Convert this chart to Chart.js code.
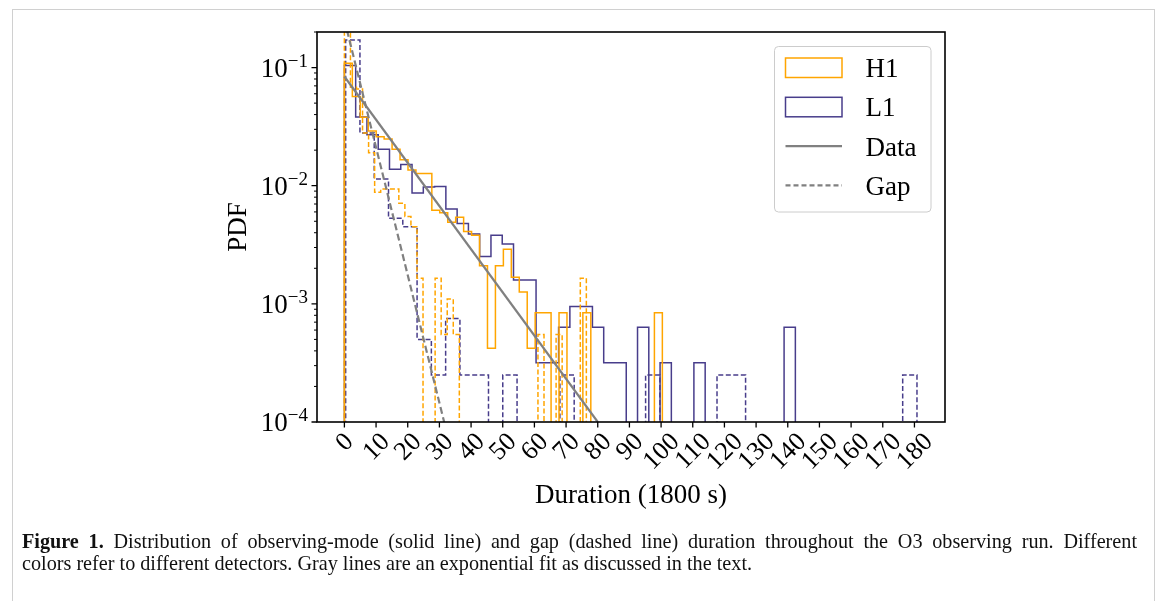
<!DOCTYPE html>
<html>
<head>
<meta charset="utf-8">
<script src="https://cdn.jsdelivr.net/npm/chart.js@4.4.1/dist/chart.umd.min.js"></script>
<style>
  html, body { margin: 0; padding: 0; background: #fff; }
  #wrap { position: relative; width: 1167px; height: 601px; overflow: hidden; }
  #frame { position: absolute; left: 12px; top: 9px; width: 1143px; height: 640px;
           border: 1px solid #d0d0d0; box-sizing: border-box; }
  #chart { position: absolute; left: 0; top: 0; }
  #caption { position: absolute; left: 22px; top: 530px; width: 1115px;
             font-family: "Liberation Serif", serif; font-size: 20.2px; line-height: 22px; color: #111; }
  #caption .first { text-align: justify; text-align-last: justify; white-space: nowrap; }
  #caption .first { white-space: normal; }
</style>
</head>
<body>
<div id="wrap">
  <div id="frame"></div>
  <canvas id="chart" width="1167" height="601"></canvas>
  <div id="caption">
    <div class="first"><b>Figure 1.</b> Distribution of observing-mode (solid line) and gap (dashed line) duration throughout the O3 observing run. Different</div>
    <div>colors refer to different detectors. Gray lines are an exponential fit as discussed in the text.</div>
  </div>
</div>
<script>
// ── Data ─────────────────────────────────────────────────────────────────────
const xTicks      = [0, 10, 20, 30, 40, 50, 60, 70, 80, 90, 100, 110, 120, 130, 140, 150, 160, 170, 180];
const yDecades    = [1e-4, 1e-3, 1e-2, 1e-1];
const yMinorSteps = [2, 3, 4, 5, 6, 7, 8, 9];

// H1 observing-mode histogram (40 bins)
const h1Start = 0, h1Width = 2.51;
const h1Pdf = [0.109, 0.057, 0.038, 0.029, 0.026, 0.0248, 0.0204, 0.0166, 0.0136, 0.0127,
               0.0127, 0.0062, 0.0059, 0.0049, 0.0054, 0.0041, 0.0038, 0.0021, 0.00042, 0.0021,
               0.0029, 0.00168, 0.00126, 0.00042, 0.00084, 0.00084, 0, 0.00084, 0, 0,
               0.00084, 0, 0, 0, 0, 0, 0, 0, 0, 0.00084];

// L1 observing-mode histogram (40 bins)
const l1Start = 0, l1Width = 3.56;
const l1Pdf = [0.104, 0.0381, 0.027, 0.0204, 0.0138, 0.0151, 0.00867, 0.00975, 0.00987, 0.00636,
               0.00478, 0.0039, 0.00252, 0.0038, 0.00321, 0.00159, 0.00159, 0.000317, 0.000317, 0.000634,
               0.00095, 0.00095, 0.000634, 0.000317, 0.000317, 0, 0.000634, 0, 0.000317, 0,
               0, 0.000317, 0, 0, 0, 0, 0, 0, 0, 0.000634];

// H1 gap histogram (40 bins)
const h1GapStart = 0, h1GapWidth = 1.91;
const h1GapPdf = [0.28, 0.068, 0.066, 0.028, 0.019, 0.0088, 0.0094, 0.0094, 0.0094, 0.0071,
                  0.0055, 0.0045, 0.00165, 0, 0, 0.00165, 0.00055, 0.0011, 0.00055, 0,
                  0, 0, 0, 0, 0, 0, 0, 0, 0, 0,
                  0, 0, 0.00055, 0, 0, 0.00055, 0, 0, 0, 0.00165];

// L1 gap histogram (40 bins)
const l1GapStart = 0.4, l1GapWidth = 4.51;
const l1GapPdf = [0.171, 0.028, 0.0114, 0.0053, 0.0045, 0.0005, 0.00025, 0.00075, 0.00025, 0.00025,
                  0, 0.00025, 0, 0, 0, 0.00025, 0, 0, 0, 0,
                  0, 0.00025, 0, 0, 0, 0, 0.00025, 0.00025, 0, 0,
                  0, 0, 0, 0, 0, 0, 0, 0, 0, 0.00025];

// exponential fits (end points of the straight lines on the log axis)
const dataFitX = [0, 80];
const dataFitY = [0.084, 0.0001];
const gapFitX  = [0, 31.5];
const gapFitY  = [0.254, 0.0001];

// ── Styles ───────────────────────────────────────────────────────────────────
const ORANGE = "#ffa500";
const PURPLE = "#483d8b";
const GRAY   = "#808080";
const FONT   = '"Liberation Serif", "DejaVu Serif", serif';
const FLOOR  = 1e-6;   // empty bins drop below the axis

// step outline of a histogram, going down to the floor at both ends
function stepPoints(start, width, pdf) {
  const pts = [{ x: start, y: FLOOR }];
  pdf.forEach((v, i) => {
    const y = v > 0 ? v : FLOOR;
    pts.push({ x: start + i * width, y });
    pts.push({ x: start + (i + 1) * width, y });
  });
  pts.push({ x: start + pdf.length * width, y: FLOOR });
  return pts;
}

function linePoints(xs, ys) {
  return xs.map((x, i) => ({ x, y: ys[i] }));
}

const hist = (label, pts, color, dashed, order) => ({
  label, data: pts, borderColor: color, borderWidth: 1.5,
  borderDash: dashed ? [5, 2.5] : [], fill: false, pointRadius: 0,
  tension: 0, clip: 0, order
});

// ── Axes, ticks, labels and legend drawn matplotlib-style ────────────────────
const axesPlugin = {
  id: "mplAxes",
  afterDraw(chart) {
    const { ctx, chartArea: a, scales: { x, y } } = chart;
    ctx.save();
    ctx.strokeStyle = "#000";
    ctx.fillStyle = "#000";

    // ticks
    ctx.lineWidth = 1.3;
    ctx.beginPath();
    xTicks.forEach(v => {
      const px = x.getPixelForValue(v);
      ctx.moveTo(px, a.bottom); ctx.lineTo(px, a.bottom + 5.5);
    });
    yDecades.forEach(v => {
      const py = y.getPixelForValue(v);
      ctx.moveTo(a.left, py); ctx.lineTo(a.left - 5.5, py);
    });
    ctx.stroke();
    ctx.lineWidth = 1;
    ctx.beginPath();
    yDecades.forEach(d => yMinorSteps.forEach(m => {
      const v = d * m;
      if (v > y.max * 1.0001) return;
      const py = y.getPixelForValue(v);
      ctx.moveTo(a.left, py); ctx.lineTo(a.left - 3, py);
    }));
    ctx.stroke();

    // frame
    ctx.lineWidth = 1.6;
    ctx.strokeRect(a.left, a.top, a.right - a.left, a.bottom - a.top);

    // y tick labels 10^n
    yDecades.forEach(v => {
      const py = y.getPixelForValue(v);
      const sup = "\u2212" + Math.abs(Math.round(Math.log10(v)));
      ctx.font = "27px " + FONT;
      const wb = ctx.measureText("10").width;
      ctx.font = "19px " + FONT;
      const ws = ctx.measureText(sup).width;
      const right = a.left - 9;
      ctx.textAlign = "left"; ctx.textBaseline = "alphabetic";
      ctx.font = "27px " + FONT;
      ctx.fillText("10", right - ws - wb, py + 9);
      ctx.font = "19px " + FONT;
      ctx.fillText(sup, right - ws, py - 1);
    });

    // x tick labels, rotated 45 degrees, centred under the tick
    ctx.font = "26px " + FONT;
    ctx.textAlign = "center"; ctx.textBaseline = "middle";
    xTicks.forEach(v => {
      const label = String(v);
      const w = ctx.measureText(label).width, h = 18;
      const box = (w + h) * Math.SQRT1_2;
      ctx.save();
      ctx.translate(x.getPixelForValue(v), a.bottom + 9 + box / 2);
      ctx.rotate(-Math.PI / 4);
      ctx.fillText(label, 0, 1);
      ctx.restore();
    });

    // axis labels
    ctx.font = "27px " + FONT;
    ctx.textAlign = "center"; ctx.textBaseline = "alphabetic";
    ctx.fillText("Duration (1800 s)", (a.left + a.right) / 2, 503);
    ctx.save();
    ctx.translate(246, (a.top + a.bottom) / 2);
    ctx.rotate(-Math.PI / 2);
    ctx.fillText("PDF", 0, 0);
    ctx.restore();

    // legend
    const lx = 774.5, ly = 46.5, lw = 156.5, lh = 165.5;
    ctx.beginPath();
    ctx.roundRect(lx, ly, lw, lh, 4);
    ctx.fillStyle = "rgba(255,255,255,0.8)";
    ctx.fill();
    ctx.strokeStyle = "#cccccc"; ctx.lineWidth = 1;
    ctx.stroke();
    const items = [
      { label: "H1",   kind: "patch", color: ORANGE },
      { label: "L1",   kind: "patch", color: PURPLE },
      { label: "Data", kind: "line",  color: GRAY, dash: [] },
      { label: "Gap",  kind: "line",  color: GRAY, dash: [5, 3] }
    ];
    items.forEach((it, i) => {
      const cy = 67.5 + i * 39.3;
      if (it.kind === "patch") {
        ctx.strokeStyle = it.color; ctx.lineWidth = 1.5; ctx.setLineDash([]);
        ctx.strokeRect(785.5, cy - 9.5, 56.5, 19.5);
      } else {
        ctx.strokeStyle = it.color; ctx.lineWidth = 2.2; ctx.setLineDash(it.dash);
        ctx.beginPath(); ctx.moveTo(785.5, cy); ctx.lineTo(842, cy); ctx.stroke();
        ctx.setLineDash([]);
      }
      ctx.fillStyle = "#000";
      ctx.font = "27px " + FONT;
      ctx.textAlign = "left"; ctx.textBaseline = "alphabetic";
      ctx.fillText(it.label, 865.5, cy + 9.5);
    });
    ctx.restore();
  }
};

new Chart(document.getElementById("chart").getContext("2d"), {
  type: "line",
  data: {
    datasets: [
      { label: "Data", data: linePoints(dataFitX, dataFitY), borderColor: GRAY, borderWidth: 2.2,
        pointRadius: 0, fill: false, tension: 0, clip: 0, order: 0 },
      { label: "Gap", data: linePoints(gapFitX, gapFitY), borderColor: GRAY, borderWidth: 2.2,
        borderDash: [7, 3.5], pointRadius: 0, fill: false, tension: 0, clip: 0, order: 0 },
      hist("H1",     stepPoints(h1Start, h1Width, h1Pdf),          ORANGE, false, 1),
      hist("H1 gap", stepPoints(h1GapStart, h1GapWidth, h1GapPdf), ORANGE, true,  2),
      hist("L1",     stepPoints(l1Start, l1Width, l1Pdf),          PURPLE, false, 3),
      hist("L1 gap", stepPoints(l1GapStart, l1GapWidth, l1GapPdf), PURPLE, true,  4)
    ]
  },
  options: {
    responsive: false,
    animation: false,
    devicePixelRatio: 1,
    layout: { padding: { left: 317, top: 32, right: 222, bottom: 179 } },
    plugins: { legend: { display: false }, tooltip: { enabled: false } },
    scales: {
      x: { type: "linear", min: -8.65, max: 189.65, display: false },
      y: { type: "logarithmic", min: 1e-4, max: 0.2, display: false }
    }
  },
  plugins: [axesPlugin]
});
</script>
</body>
</html>
